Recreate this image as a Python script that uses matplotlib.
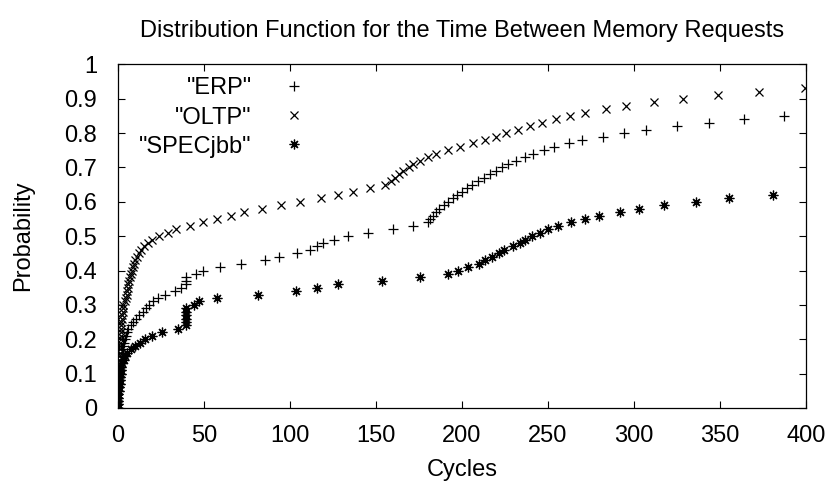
import matplotlib
matplotlib.use("Agg")
import matplotlib.pyplot as plt

plt.rcParams["font.family"] = ["Liberation Sans", "DejaVu Sans"]

# probability levels and the cycle count at each level
erp_prob = [0.00, 0.01, 0.02, 0.03, 0.04, 0.05, 0.06, 0.07, 0.08, 0.09,
            0.10, 0.11, 0.12, 0.13, 0.14, 0.15, 0.16, 0.17, 0.18, 0.19,
            0.20, 0.21, 0.22, 0.23, 0.24, 0.25, 0.26, 0.27, 0.28, 0.29,
            0.30, 0.31, 0.32, 0.33, 0.34, 0.35, 0.36, 0.37, 0.38, 0.39,
            0.40, 0.41, 0.42, 0.43, 0.44, 0.45, 0.46, 0.47, 0.48, 0.49,
            0.50, 0.51, 0.52, 0.53, 0.54, 0.55, 0.56, 0.57, 0.58, 0.59,
            0.60, 0.61, 0.62, 0.63, 0.64, 0.65, 0.66, 0.67, 0.68, 0.69,
            0.70, 0.71, 0.72, 0.73, 0.74, 0.75, 0.76, 0.77, 0.78, 0.79,
            0.80, 0.81, 0.82, 0.83, 0.84, 0.85]
erp_cycles = [0, 0, 0, 0, 0, 0.5, 0.5, 1, 1, 1,
              1.5, 1.5, 2, 2, 2, 2.5, 2.5, 3, 3, 3.5,
              4, 4.7, 5.3, 6, 7.4, 8.9, 10.5, 12.2, 14.3, 16.1,
              18.2, 20.5, 23.4, 27.6, 33.3, 36.5, 39.5, 39.5, 39.5, 45.5,
              49.6, 59.5, 71.7, 85.5, 93.7, 103.9, 111.6, 115.5, 119.4, 125.8,
              133.5, 145.5, 159.7, 171.7, 180.2, 181.6, 183.2, 184.8, 186.8, 189.3,
              192.0, 194.6, 197.3, 200.2, 203.1, 206.0, 209.2, 212.8, 216.2, 219.6,
              223.0, 226.6, 231.6, 236.6, 241.5, 247.6, 253.6, 262.0, 270.0, 282.0,
              294.0, 307.2, 325.0, 343.4, 364.0, 387.4]

oltp_prob = [0.00, 0.01, 0.02, 0.03, 0.04, 0.05, 0.06, 0.07, 0.08, 0.09,
             0.10, 0.11, 0.12, 0.13, 0.14, 0.15, 0.16, 0.17, 0.18, 0.19,
             0.20, 0.21, 0.22, 0.23, 0.24, 0.25, 0.26, 0.27, 0.28, 0.29,
             0.30, 0.31, 0.32, 0.33, 0.34, 0.35, 0.36, 0.37, 0.38, 0.39,
             0.40, 0.41, 0.42, 0.43, 0.44, 0.45, 0.46, 0.47, 0.48, 0.49,
             0.50, 0.51, 0.52, 0.53, 0.54, 0.55, 0.56, 0.57, 0.58, 0.59,
             0.60, 0.61, 0.62, 0.63, 0.64, 0.65, 0.66, 0.67, 0.68, 0.69,
             0.70, 0.71, 0.72, 0.73, 0.74, 0.75, 0.76, 0.77, 0.78, 0.79,
             0.80, 0.81, 0.82, 0.83, 0.84, 0.85, 0.86, 0.87, 0.88, 0.89,
             0.90, 0.91, 0.92, 0.93]
oltp_cycles = [0, 0, 0, 0, 0, 0, 0, 0, 0, 0,
               0, 0, 0.5, 0.5, 0.5, 0.5, 1, 1, 1, 1,
               1.5, 1.5, 1.5, 2, 2, 2, 2.5, 2.5, 3, 3,
               3.1, 4.1, 4.5, 5.0, 5.3, 5.7, 6.0, 6.5, 7.0, 7.5,
               8.0, 8.7, 9.3, 10.0, 11.0, 12.0, 13.5, 15.3, 17.3, 20.0,
               24.0, 29.1, 33.6, 41.6, 49.5, 57.5, 65.6, 73.5, 83.5, 94.7,
               105.8, 117.8, 127.7, 136.8, 146.5, 155.5, 158.5, 161.0, 163.6, 165.9,
               169.0, 171.7, 175.6, 180.0, 184.9, 192.0, 198.8, 206.6, 213.4, 219.7,
               225.8, 232.4, 239.5, 246.5, 254.6, 262.6, 271.5, 283.5, 295.3, 311.4,
               328.3, 348.6, 372.9, 399.4]

specjbb_prob = [0.00, 0.01, 0.02, 0.03, 0.04, 0.05, 0.06, 0.07, 0.08, 0.09,
                0.10, 0.11, 0.12, 0.13, 0.14, 0.15, 0.16, 0.17, 0.18, 0.19,
                0.20, 0.21, 0.22, 0.23, 0.24, 0.25, 0.26, 0.27, 0.28, 0.29,
                0.30, 0.31, 0.32, 0.33, 0.34, 0.35, 0.36, 0.37, 0.38, 0.39,
                0.40, 0.41, 0.42, 0.43, 0.44, 0.45, 0.46, 0.47, 0.48, 0.49,
                0.50, 0.51, 0.52, 0.53, 0.54, 0.55, 0.56, 0.57, 0.58, 0.59,
                0.60, 0.61, 0.62]
specjbb_cycles = [0, 0, 0, 0, 0, 0.5, 0.5, 1, 1, 1,
                  1.5, 1.5, 2, 2.5, 3.5, 4.2, 5.0, 7.4, 9.9, 12.8,
                  15.7, 19.6, 25.7, 34.7, 39.5, 39.5, 39.5, 39.5, 39.5, 39.5,
                  44.4, 47.3, 57.7, 81.6, 103.5, 115.5, 127.7, 153.7, 175.6, 191.6,
                  197.9, 203.7, 209.9, 213.6, 217.7, 221.4, 224.5, 229.5, 233.7, 236.6,
                  240.5, 245.3, 249.7, 255.5, 263.6, 271.5, 279.7, 291.7, 302.7, 317.4,
                  335.9, 355.4, 380.6]

FS = 17

fig = plt.figure(figsize=(8.31, 4.92), dpi=100)
ax = fig.add_axes([0.142, 0.171, 0.828, 0.698])

ax.plot(erp_cycles, erp_prob, linestyle="none", marker="+", ms=7,
        mew=0.9, color="black", label='"ERP"')
ax.plot(oltp_cycles, oltp_prob, linestyle="none", marker="x", ms=6,
        mew=0.9, color="black", label='"OLTP"')
ax.plot(specjbb_cycles, specjbb_prob, linestyle="none", marker=(8, 2, 0),
        ms=7, mew=0.9, color="black", label='"SPECjbb"')

ax.set_xlim(0, 400)
ax.set_ylim(0, 1)
ax.set_xticks(range(0, 401, 50))
ax.set_yticks([0, 0.1, 0.2, 0.3, 0.4, 0.5, 0.6, 0.7, 0.8, 0.9, 1])
ax.set_yticklabels(["0", "0.1", "0.2", "0.3", "0.4", "0.5", "0.6", "0.7",
                    "0.8", "0.9", "1"])
ax.tick_params(direction="in", length=5, width=0.8, top=True, right=True,
               labelsize=FS)
ax.tick_params(axis="x", pad=12)
ax.tick_params(axis="y", pad=15)
for s in ax.spines.values():
    s.set_linewidth(0.9)

ax.set_title("Distribution Function for the Time Between Memory Requests",
             fontsize=FS, pad=20)
ax.set_xlabel("Cycles", fontsize=FS, labelpad=9)
ax.set_ylabel("Probability", fontsize=FS, labelpad=22)

ax.legend(loc="upper left", bbox_to_anchor=(0.012, 1.0), frameon=False,
          markerfirst=False, fontsize=FS, handlelength=1.0,
          handletextpad=1.3, labelspacing=0.3, borderaxespad=0.15)

fig.savefig("out.png", dpi=100)
